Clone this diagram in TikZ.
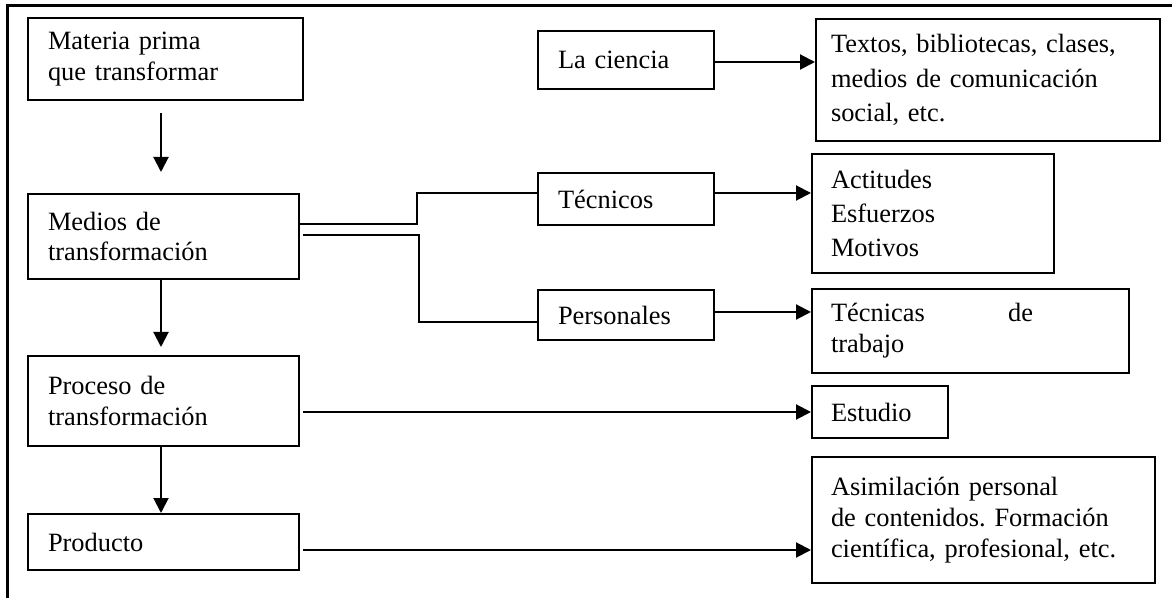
\documentclass[tikz,border=0pt]{standalone}
\usepackage{fontspec}
\setmainfont{Liberation Serif}
\usetikzlibrary{arrows.meta}
\frenchspacing

\begin{document}
\begin{tikzpicture}[x=0.5pt,y=-0.5pt,
  box/.style={draw, line width=1pt, anchor=north west, align=left,
    inner xsep=10pt, inner ysep=0pt, font=\fontsize{13.2}{15.4}\selectfont},
  loose/.style={font=\fontsize{13.2}{17.2}\selectfont},
  wide/.style={inner xsep=9.5pt},
  link/.style={line width=1pt},
  arr/.style={link, -{Triangle[length=7.5pt,width=7.5pt]}}]
\useasboundingbox (0,0) rectangle (1172,598);

% outer frame (runs past the page at right and bottom)
\draw[line width=1.5pt] (7,605) -- (7,6) -- (1180,6);

% left column: the transformation chain
\node[box, text width=117.5pt, minimum height=41pt]   (materia)  at (27,17)  {Materia prima\\que transformar};
\node[box, text width=115.5pt, minimum height=42.5pt] (medios)   at (27,193) {Medios de\\transformación};
\node[box, text width=115.5pt, minimum height=45pt]   (proceso)  at (27,355) {Proceso de\\transformación};
\node[box, text width=115.5pt, minimum height=28pt]   (producto) at (27,513) {Producto};

% middle column
\node[box, text width=68pt, minimum height=29pt] (ciencia)    at (537,30)  {La ciencia};
\node[box, text width=68pt, minimum height=26pt] (tecnicos)   at (537,172) {Técnicos};
\node[box, text width=68pt, minimum height=25pt] (personales) at (537,289) {Personales};

% right column
\node[box, loose, inner xsep=7.5pt, text width=157pt, minimum height=61pt] (textos) at (815,18)
  {Textos, bibliotecas, clases,\\medios de comunicación\\social, etc.};
\node[box, loose, wide, text width=102pt, minimum height=59.5pt] (actitudes) at (811,153)
  {Actitudes\\Esfuerzos\\Motivos};
\node[box, wide, text width=139.5pt, minimum height=42pt] (tecnicas) at (811,288)
  {\hbox to 101pt{Técnicas\hfill de}\\trabajo};
\node[box, wide, text width=49pt, minimum height=26pt] (estudio) at (811,385) {Estudio};
\node[box, wide, text width=152.5pt, minimum height=63pt] (asim) at (811,456)
  {Asimilación personal\\de contenidos. Formación\\científica, profesional, etc.};

% vertical arrows of the chain, all on one axis
\coordinate (axis) at (161,0);
\draw[arr, shorten >=10.5pt] ([yshift=-6pt]materia.south -| axis) -- (medios.north -| axis);
\draw[arr, shorten >=4pt] (medios.south -| axis) -- (proceso.north -| axis);
\draw[arr] (proceso.south -| axis) -- (producto.north -| axis);

% branching from the means of transformation
\draw[link] (medios.east |- 0,224) -- (417,224) -- (417,193) -- (tecnicos.west |- 0,193);
\draw[link, shorten <=1.5pt] (medios.east |- 0,235) -- (419,235) -- (419,322) -- (personales.west |- 0,322);

% horizontal arrows to the right column
\draw[arr] (ciencia.east |- 0,62)    -- (textos.west |- 0,62);
\draw[arr] (tecnicos.east |- 0,193)  -- (actitudes.west |- 0,193);
\draw[arr] (personales.east |- 0,312) -- (tecnicas.west |- 0,312);
\draw[arr, shorten <=1.5pt] (proceso.east |- 0,412)   -- (estudio.west |- 0,412);
\draw[arr, shorten <=1.5pt] (producto.east |- 0,550)  -- (asim.west |- 0,550);
\end{tikzpicture}
\end{document}
